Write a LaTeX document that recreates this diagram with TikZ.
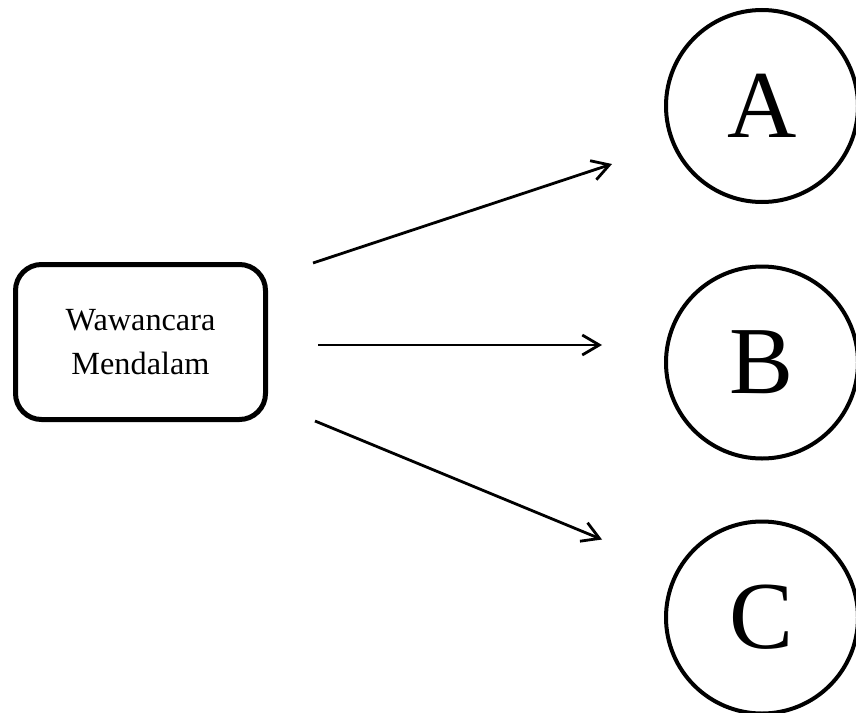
\documentclass[tikz,border=0pt]{standalone}
\usepackage{fontspec}
\setmainfont{Liberation Serif}
\usetikzlibrary{arrows.meta}
\begin{document}
\begin{tikzpicture}[x=1pt,y=-1pt,
  boxnode/.style={draw,line width=5pt,rounded corners=26pt,minimum width=250pt,minimum height=155pt,inner sep=0pt,align=center,font=\fontsize{32.3}{44}\selectfont},
  circnode/.style={draw,circle,line width=4pt,minimum size=192pt,inner sep=0pt,font=\fontsize{96}{96}\selectfont},
  arr/.style={line width=2.8pt,-{Straight Barb[length=17pt,width=20pt,line width=2.8pt]}}]
\useasboundingbox (0,0) rectangle (856,712);
\node[boxnode] (wm) at (140.5,342) {Wawancara\\Mendalam};
\node[circnode] (A) at (762,106) {A};
\node[circnode] (B) at (762,362.5) {B};
\node[circnode] (C) at (762,617.5) {C};
\draw[arr] ([xshift=45pt,yshift=79pt]wm.east) -- ([xshift=-52pt,yshift=-58pt]A.west);
\draw[arr] ([xshift=50pt,yshift=-3pt]wm.east) -- ([xshift=-62pt,yshift=17.5pt]B.west);
\draw[arr] ([xshift=47pt,yshift=-79pt]wm.east) -- ([xshift=-62pt,yshift=78pt]C.west);
\end{tikzpicture}
\end{document}
